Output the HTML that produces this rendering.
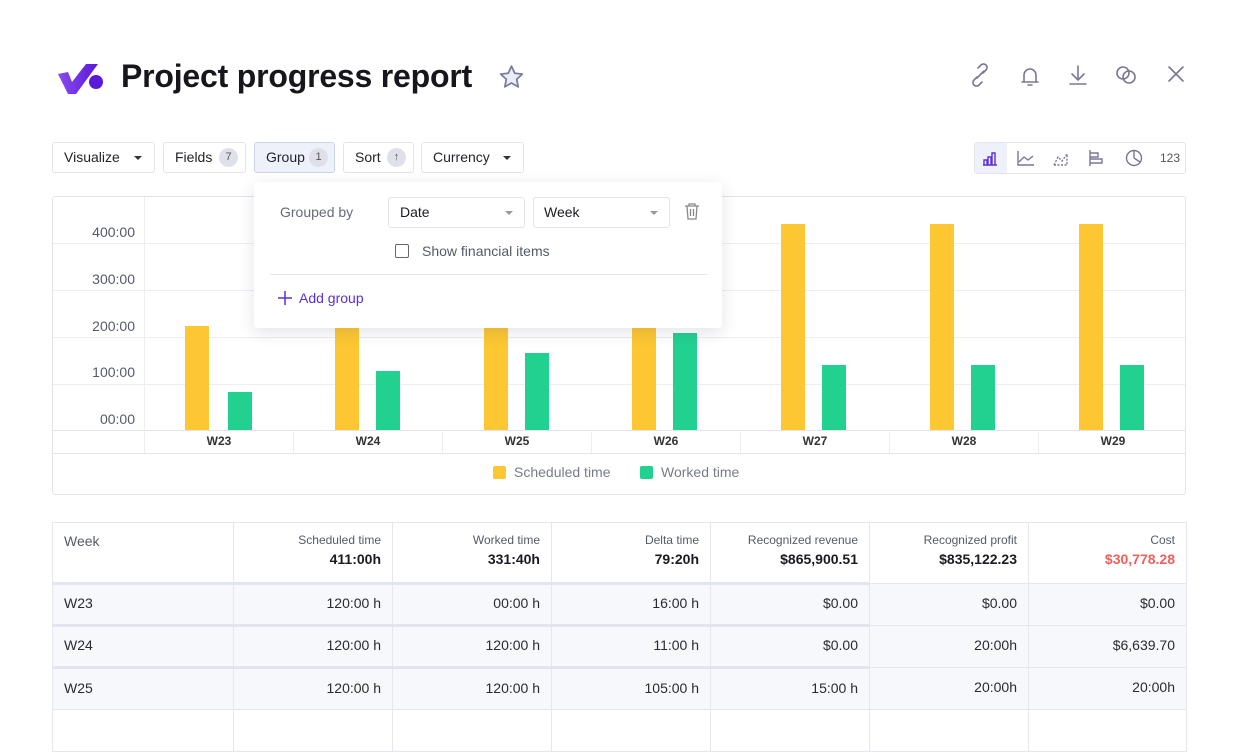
<!DOCTYPE html>
<html><head><style>
*{box-sizing:border-box;margin:0;padding:0}
body{width:1240px;height:720px;background:#fff;font-family:"Liberation Sans",sans-serif;position:relative;overflow:hidden;color:#1a1a22}
.a{position:absolute}
.btn{position:absolute;top:142px;height:31px;border:1px solid #e3e4ea;border-radius:3px;font-size:14px;color:#23232b;line-height:29px;padding-left:11px}
.badge{position:absolute;top:5px;width:19px;height:19px;border-radius:50%;background:#dfe0ea;font-size:11px;text-align:center;line-height:19px;color:#555}
.tri{position:absolute;top:13px;border-left:4px solid transparent;border-right:4px solid transparent;border-top:4px solid #333}
.yl{position:absolute;left:60px;width:75px;text-align:right;font-size:14px;color:#555a6a}
.gl{position:absolute;left:53px;width:1132px;height:1px;background:#eceef3}
.bar{position:absolute;width:24px}
.y{background:#fdc733}.g{background:#22d090}
.xl{position:absolute;top:430px;height:23px;width:149px;text-align:center;font-size:12px;font-weight:bold;line-height:23px;color:#333;border-left:1px solid #eceef3}
table{position:absolute;left:52px;top:522px;width:1135px;border-collapse:collapse;font-size:14px}
td{border:1px solid #e6e7ee;text-align:right;padding:0 11px 3px;height:42px;color:#2a2a33}
td:first-child{text-align:left}
tr.r td{background:#f7f8fb;border-top:3px solid #e2e5ef}
tr.r td:nth-child(n+6){border-top:1px solid #e6e7ee}
th{border:1px solid #e6e7ee;font-weight:normal;text-align:right;padding:10px 11px 0;vertical-align:top;height:61px;font-size:12px;color:#555a6a}
th b{display:block;font-size:14px;color:#1a1a22;margin-top:4px}
</style></head><body>
<svg class="a" style="left:56px;top:60px" width="48" height="36" viewBox="0 0 48 36"><defs><linearGradient id="lg" x1="0" x2="1"><stop offset="0" stop-color="#8a4cf0"/><stop offset="1" stop-color="#5a18d8"/></linearGradient></defs><path d="M2 14 L12 12 L16 22 L30 4 L42 4 L20 34 L12 34 Z" fill="url(#lg)"/><circle cx="40" cy="22" r="7" fill="#5a18d8"/></svg>
<div class="a" style="left:121px;top:58px;font-size:32px;font-weight:bold;color:#16161c;letter-spacing:-0.2px">Project progress report</div>
<svg class="a" style="left:498px;top:64px" width="27" height="26" viewBox="0 0 24 24"><path d="M12 2l3 6.5 7 .8-5.2 4.8 1.4 7-6.2-3.6-6.2 3.6 1.4-7L2 9.3l7-.8z" fill="#eceef5" stroke="#7c7aa0" stroke-width="1.6" stroke-linejoin="round"/></svg>
<svg class="a" style="left:968px;top:62px" width="220" height="26" viewBox="0 0 220 26" fill="none" stroke="#7a7796" stroke-width="1.6" stroke-linecap="round">
<path d="M9 15l-3 3a3.5 3.5 0 0 0 5 5l3-3M15 11l3-3a3.5 3.5 0 0 0-5-5l-3 3M9 16l7-7"/>
<path d="M54 20h16M56 20v-7a6 6 0 0 1 12 0v7M60 23h4"/>
<path d="M110 4v14M104 12l6 6 6-6M102 22h16"/>
<circle cx="155" cy="11" r="6"/><circle cx="161" cy="15" r="6"/>
<path d="M201 5l14 14M215 5l-14 14"/></svg>
<div class="btn" style="left:52px;width:103px">Visualize<span class="tri" style="left:81px"></span></div>
<div class="btn" style="left:163px;width:83px">Fields<span class="badge" style="left:55px">7</span></div>
<div class="btn" style="left:254px;width:81px;background:#eef0fa;border-color:#cfd3e6">Group<span class="badge" style="left:54px">1</span></div>
<div class="btn" style="left:343px;width:71px">Sort<span class="badge" style="left:43px">↑</span></div>
<div class="btn" style="left:421px;width:103px">Currency<span class="tri" style="left:81px"></span></div>
<div class="a" style="left:974px;top:142px;width:212px;height:32px;border:1px solid #e3e4ea;border-radius:3px"></div>
<div class="a" style="left:975px;top:143px;width:32px;height:30px;background:#eef0fa"></div>
<svg class="a" style="left:980px;top:147px" width="170" height="22" viewBox="0 0 170 22" fill="none" stroke="#7a7796" stroke-width="1.4">
<path d="M3 18h14M4 18v-5h3v5M8 18v-8h3v8M12 18v-12h3v12" stroke="#5b2fd8"/>
<path d="M38 4v14h16M39 15l5-5 4 3 5-4"/>
<path d="M74 18h14M74 18l4-8 4 4 5-7v11" stroke-dasharray="2 1.5"/>
<path d="M110 3v16M110 6h8v4h-8M110 12h12v4h-12"/>
<circle cx="154" cy="11" r="7.5"/><path d="M154 11V3.5M154 11l6 4"/></svg>
<div class="a" style="left:1160px;top:151px;font-size:12px;color:#555">123</div>

<div class="a" style="left:52px;top:196px;width:1134px;height:299px;border:1px solid #e3e4ea;border-radius:3px"></div>
<div class="a" style="left:144px;top:197px;width:1px;height:256px;background:#eceef3"></div>
<div class="gl" style="top:243px"></div><div class="gl" style="top:290px"></div><div class="gl" style="top:337px"></div><div class="gl" style="top:384px"></div><div class="gl" style="top:430px;background:#e3e4ea"></div><div class="gl" style="top:453px;background:#e3e4ea"></div>
<div class="yl" style="top:224px">400:00</div><div class="yl" style="top:271px">300:00</div><div class="yl" style="top:318px">200:00</div><div class="yl" style="top:364px">100:00</div><div class="yl" style="top:411px">00:00</div>
<div class="bar y" style="left:185px;top:326px;height:104px"></div><div class="bar g" style="left:228px;top:392px;height:38px"></div>
<div class="bar y" style="left:335px;top:322px;height:108px"></div><div class="bar g" style="left:376px;top:371px;height:59px"></div>
<div class="bar y" style="left:484px;top:322px;height:108px"></div><div class="bar g" style="left:525px;top:353px;height:77px"></div>
<div class="bar y" style="left:632px;top:322px;height:108px"></div><div class="bar g" style="left:673px;top:333px;height:97px"></div>
<div class="bar y" style="left:781px;top:224px;height:206px"></div><div class="bar g" style="left:822px;top:365px;height:65px"></div>
<div class="bar y" style="left:930px;top:224px;height:206px"></div><div class="bar g" style="left:971px;top:365px;height:65px"></div>
<div class="bar y" style="left:1079px;top:224px;height:206px"></div><div class="bar g" style="left:1120px;top:365px;height:65px"></div>
<div class="xl" style="left:144px">W23</div><div class="xl" style="left:293px">W24</div><div class="xl" style="left:442px">W25</div><div class="xl" style="left:591px">W26</div><div class="xl" style="left:740px">W27</div><div class="xl" style="left:889px">W28</div><div class="xl" style="left:1038px">W29</div>
<div class="a" style="left:493px;top:466px;width:13px;height:13px;background:#fdc733;border-radius:2px"></div>
<div class="a" style="left:514px;top:464px;font-size:14px;color:#777b8a">Scheduled time</div>
<div class="a" style="left:640px;top:466px;width:13px;height:13px;background:#22d090;border-radius:2px"></div>
<div class="a" style="left:661px;top:464px;font-size:14px;color:#777b8a">Worked time</div>

<div class="a" style="left:254px;top:182px;width:468px;height:146px;background:#fff;border-radius:3px;box-shadow:0 4px 16px rgba(40,40,80,.13)"></div>
<div class="a" style="left:280px;top:204px;font-size:14px;color:#666a7a">Grouped by</div>
<div class="a" style="left:388px;top:197px;width:137px;height:31px;border:1px solid #e3e4ea;border-radius:3px;font-size:14px;line-height:29px;padding-left:11px">Date<span class="tri" style="left:116px;border-top-color:#999"></span></div>
<div class="a" style="left:533px;top:197px;width:137px;height:31px;border:1px solid #e3e4ea;border-radius:3px;font-size:14px;line-height:29px;padding-left:10px">Week<span class="tri" style="left:116px;border-top-color:#999"></span></div>
<svg class="a" style="left:684px;top:203px" width="16" height="17" viewBox="0 0 16 17" fill="none" stroke="#888" stroke-width="1.3"><path d="M1 3h14M5 3V1h6v2M3 3l1 13h8l1-13M6.5 6v7M9.5 6v7"/></svg>
<div class="a" style="left:395px;top:244px;width:14px;height:14px;border:1.5px solid #666;border-radius:2px"></div>
<div class="a" style="left:422px;top:243px;font-size:14px;color:#555a6a">Show financial items</div>
<div class="a" style="left:270px;top:274px;width:438px;height:1px;background:#e6e7ee"></div>
<svg class="a" style="left:278px;top:291px" width="14" height="14" viewBox="0 0 14 14" stroke="#5b2fd8" stroke-width="1.5"><path d="M7 0v14M0 7h14"/></svg>
<div class="a" style="left:299px;top:290px;font-size:14px;color:#5b2fd8">Add group</div>

<table>
<tr><th style="text-align:left;width:181px;font-size:14px;padding-top:10px">Week</th><th style="width:159px">Scheduled time<b>411:00h</b></th><th style="width:159px">Worked time<b>331:40h</b></th><th style="width:159px">Delta time<b>79:20h</b></th><th style="width:159px">Recognized revenue<b>$865,900.51</b></th><th style="width:159px">Recognized profit<b>$835,122.23</b></th><th>Cost<b style="color:#f0605a">$30,778.28</b></th></tr>
<tr class="r"><td>W23</td><td>120:00 h</td><td>00:00 h</td><td>16:00 h</td><td>$0.00</td><td>$0.00</td><td>$0.00</td></tr>
<tr class="r"><td>W24</td><td>120:00 h</td><td>120:00 h</td><td>11:00 h</td><td>$0.00</td><td>20:00h</td><td>$6,639.70</td></tr>
<tr class="r"><td>W25</td><td>120:00 h</td><td>120:00 h</td><td>105:00 h</td><td>15:00 h</td><td>20:00h</td><td>20:00h</td></tr>
<tr><td></td><td></td><td></td><td></td><td></td><td></td><td></td></tr>
</table>
</body></html>
